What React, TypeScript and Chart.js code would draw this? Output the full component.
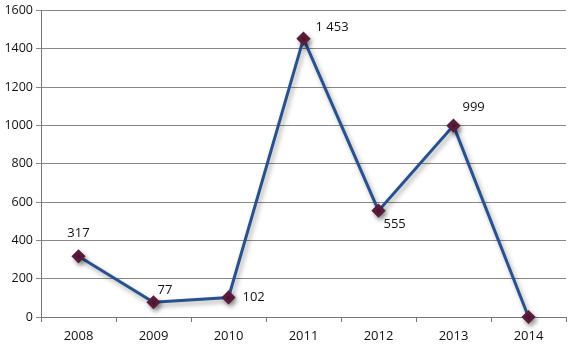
import React, { useEffect, useRef } from "react";
import { Chart, registerables } from "chart.js";

Chart.register(...registerables);

const years = ["2008", "2009", "2010", "2011", "2012", "2013", "2014"];
const values = [317, 77, 102, 1453, 555, 999, 0];
const valueLabels = ["317", "77", "102", "1 453", "555", "999", ""];
const yTicks = [0, 200, 400, 600, 800, 1000, 1200, 1400, 1600];

// label placement relative to each point (style only)
const labelOffsets: [number, number, CanvasTextAlign][] = [
  [0, -23, "center"],
  [4, -12, "left"],
  [14, 0, "left"],
  [12, -11, "left"],
  [5, 14, "left"],
  [9, -18, "left"],
  [0, 0, "left"],
];

const shadowPlugin = {
  id: "lineShadow",
  beforeDatasetDraw(chart: any) {
    const ctx = chart.ctx;
    ctx.save();
    ctx.shadowColor = "rgba(0,0,0,0.35)";
    ctx.shadowBlur = 5;
    ctx.shadowOffsetX = 2;
    ctx.shadowOffsetY = 3;
  },
  afterDatasetDraw(chart: any) {
    chart.ctx.restore();
  },
};

const labelPlugin = {
  id: "valueLabels",
  afterDatasetsDraw(chart: any) {
    const ctx = chart.ctx;
    const meta = chart.getDatasetMeta(0);
    ctx.save();
    ctx.font = "13px 'Open Sans', sans-serif";
    ctx.fillStyle = "#111";
    ctx.textBaseline = "middle";
    meta.data.forEach((pt: any, i: number) => {
      const [dx, dy, align] = labelOffsets[i];
      ctx.textAlign = align;
      ctx.fillText(valueLabels[i], pt.x + dx, pt.y + dy);
    });
    ctx.restore();
  },
};

export default function App() {
  const ref = useRef<HTMLCanvasElement>(null);
  useEffect(() => {
    const chart = new Chart(ref.current!, {
      type: "line",
      data: {
        labels: years,
        datasets: [
          {
            data: values,
            borderColor: "#27518f",
            borderWidth: 3,
            pointStyle: "rectRot",
            pointRadius: 5,
            pointBackgroundColor: "#5b1c3c",
            pointBorderColor: "#5b1c3c",
            tension: 0,
            clip: false,
          },
        ],
      },
      options: {
        responsive: false,
        animation: false,
        layout: { padding: { top: 1, right: 13, left: 0, bottom: 0 } },
        plugins: { legend: { display: false }, tooltip: { enabled: false } },
        scales: {
          x: {
            offset: true,
            grid: {
              offset: true,
              drawOnChartArea: false,
              drawTicks: true,
              tickLength: 5,
              color: "#777",
            },
            border: { display: true, color: "#777" },
            ticks: {
              color: "#111",
              font: { family: "'Open Sans', sans-serif", size: 13 },
              padding: 6,
              maxRotation: 0,
            },
            afterFit: (s: any) => {
              s.height = 34;
            },
          },
          y: {
            min: 0,
            max: 1600,
            afterBuildTicks: (s: any) => {
              s.ticks = yTicks.map((v) => ({ value: v }));
            },
            grid: { color: "#888", tickLength: 5, lineWidth: 1 },
            border: { display: true, color: "#777" },
            ticks: {
              color: "#111",
              font: { family: "'Open Sans', sans-serif", size: 12.5 },
              padding: 3,
              callback: (v: any) => String(v),
            },
            afterFit: (s: any) => {
              s.width = 41;
            },
          },
        },
      },
      plugins: [shadowPlugin, labelPlugin],
    });
    return () => chart.destroy();
  }, []);
  return (
    <div style={{ position: "fixed", left: 0, top: 0, width: 579, height: 351, background: "#fff" }}>
      <canvas ref={ref} width={579} height={351} />
    </div>
  );
}
